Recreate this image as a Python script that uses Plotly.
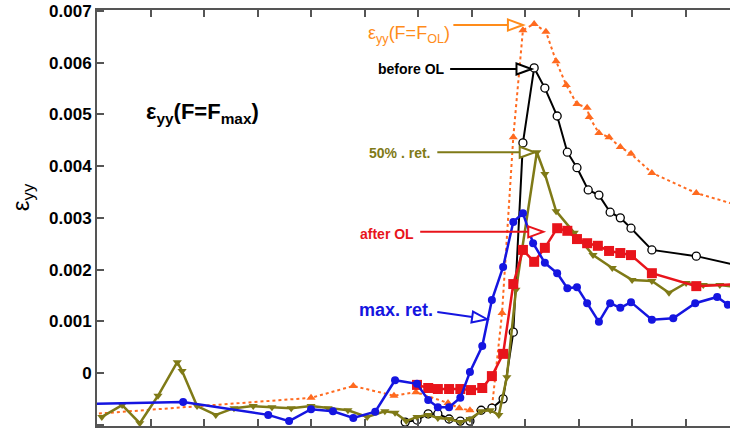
import math
import plotly.graph_objects as go

# ---------------- data (x in arbitrary position units, y in units of 1e-3 strain) -------------
SCALE = 1e-3

blue_x = [-0.3, 1.61, 3.20, 3.59, 4.00, 4.41, 4.79, 5.20, 5.57, 5.98, 6.19, 6.37, 6.58, 6.79,
          6.97, 7.20, 7.38, 7.59, 7.78, 7.96, 8.15, 8.37, 8.60, 8.79, 8.97, 9.16, 9.38, 9.59,
          9.78, 9.98, 10.37, 10.77, 11.18, 11.59, 11.79]
blue_y = [-0.60, -0.56, -0.81, -0.93, -0.70, -0.74, -0.87, -0.75, -0.14, -0.21, -0.52, -0.66,
          -0.66, -0.48, 0.02, 0.52, 1.41, 2.05, 2.92, 3.09, 2.51, 2.13, 1.93, 1.64, 1.66, 1.35,
          0.99, 1.35, 1.26, 1.37, 1.03, 1.06, 1.35, 1.47, 1.32]

red_x = [5.98, 6.19, 6.37, 6.58, 6.79, 6.99, 7.20, 7.38, 7.59, 7.78, 7.96, 8.17, 8.37, 8.60,
         8.79, 8.97, 9.16, 9.36, 9.57, 9.78, 9.98, 10.37, 11.20, 12.0]
red_y = [-0.23, -0.29, -0.31, -0.31, -0.31, -0.33, -0.29, -0.06, 0.37, 1.72, 2.38, 2.15, 2.42,
         2.80, 2.75, 2.59, 2.51, 2.46, 2.36, 2.32, 2.28, 1.93, 1.68, 1.72]

olive_x = [0.09, 0.47, 0.80, 1.14, 1.50, 1.59, 1.87, 2.22, 2.56, 2.92, 3.27, 3.63, 4.00, 4.32,
           4.69, 5.05, 5.38, 5.57, 5.78, 5.98, 6.19, 6.37, 6.58, 6.79, 6.97, 7.18, 7.35, 7.51,
           7.66, 7.83, 8.22, 8.37, 8.58, 8.92, 9.27, 9.63, 10.00, 10.37, 10.69, 11.01, 11.33,
           11.64, 11.96]
olive_y = [-0.85, -0.62, -0.97, -0.44, 0.21, 0.04, -0.64, -0.81, -0.68, -0.64, -0.66, -0.68,
           -0.64, -0.68, -0.72, -0.85, -0.74, -0.77, -0.93, -0.85, -0.81, -0.87, -0.89, -0.95,
           -0.89, -0.74, -0.72, -0.81, -0.08, 1.61, 4.27, 3.85, 3.13, 2.71, 2.28, 2.03, 1.80,
           1.78, 1.55, 1.74, 1.70, 1.70, 1.66]

orange_x = [-0.3, 4.00, 4.79, 5.55, 5.96, 6.56, 6.77, 6.97, 7.18, 7.38, 7.57, 7.78, 7.96, 8.17,
            8.39, 8.58, 8.77, 8.97, 9.16, 9.20, 9.38, 9.57, 9.78, 9.98, 10.37, 11.20, 12.02]
orange_y = [-0.81, -0.48, -0.25, -0.44, -0.37, -0.58, -0.68, -0.72, -0.72, -0.68, 1.16, 4.56,
            6.63, 6.75, 6.60, 6.03, 5.57, 5.20, 5.13, 4.95, 4.64, 4.56, 4.37, 4.24, 3.87, 3.48,
            3.23]

black_x = [5.76, 5.98, 6.19, 6.37, 6.58, 6.79, 6.97, 7.18, 7.38, 7.59, 7.78, 7.96, 8.17, 8.37,
           8.60, 8.79, 8.97, 9.18, 9.38, 9.59, 9.78, 9.98, 10.37, 11.20, 12.02]
black_y = [-0.95, -0.91, -0.79, -0.79, -0.89, -0.93, -0.93, -0.72, -0.68, -0.50, 0.79, 4.45,
           5.90, 5.51, 4.97, 4.27, 3.97, 3.54, 3.44, 3.11, 3.00, 2.80, 2.38, 2.26, 2.07]

y_tick_vals = [-0.001, 0, 0.001, 0.002, 0.003, 0.004, 0.005, 0.006, 0.007]
y_tick_text = ["-0.001", "0", "0.001", "0.002", "0.003", "0.004", "0.005", "0.006", "0.007"]
x_tick_vals = [1, 2, 3, 4, 5, 6, 7, 8, 9, 10, 11]

# annotation labels:
# (text, colour, font size, label anchor x, y(1e-3), arrow start x, y, arrow tip x, y)
labels = [
    ("ε<sub>yy</sub>(F=F<sub>OL</sub>)", "#ff8c1a", 18, 6.64, 6.55, 6.66, 6.73, 7.96, 6.73),
    ("<b>before OL</b>", "#000000", 14, 6.54, 5.88, 6.60, 5.88, 8.12, 5.88),
    ("<b>50% . ret.</b>", "#7f7a17", 14, 6.26, 4.25, 6.36, 4.27, 8.18, 4.27),
    ("<b>after OL</b>", "#e8141b", 14, 5.96, 2.68, 6.04, 2.73, 8.34, 2.73),
    ("<b>max. ret.</b>", "#1515e0", 18, 6.32, 1.22, 6.36, 1.18, 7.29, 1.04),
]

FONT = "Arial, 'Liberation Sans', sans-serif"
W, H = 730, 428
ML, MR, MT, MB = 97, 0, 10, 2
XR = [0, 11.83]
YR = [-0.001025, 0.00702]

fig = go.Figure()

fig.add_trace(go.Scatter(
    x=orange_x, y=[v * SCALE for v in orange_y], mode="lines+markers",
    line=dict(color="#ff6a1f", width=2, dash="dot"),
    marker=dict(symbol="triangle-up", size=8, color="#ff6a1f"), showlegend=False))
fig.add_trace(go.Scatter(
    x=black_x, y=[v * SCALE for v in black_y], mode="lines+markers",
    line=dict(color="#000000", width=2),
    marker=dict(symbol="circle", size=8, color="white", line=dict(color="#000000", width=1.3)),
    showlegend=False))
fig.add_trace(go.Scatter(
    x=olive_x, y=[v * SCALE for v in olive_y], mode="lines+markers",
    line=dict(color="#7f7a17", width=2.5),
    marker=dict(symbol="triangle-down", size=8, color="#7f7a17"), showlegend=False))
fig.add_trace(go.Scatter(
    x=red_x, y=[v * SCALE for v in red_y], mode="lines+markers",
    line=dict(color="#e8141b", width=2.5),
    marker=dict(symbol="square", size=10, color="#e8141b"), showlegend=False))
fig.add_trace(go.Scatter(
    x=blue_x, y=[v * SCALE for v in blue_y], mode="lines+markers",
    line=dict(color="#1515e0", width=2.5),
    marker=dict(symbol="circle", size=8, color="#1515e0"), showlegend=False))

# pixel scale helpers for arrow heads
pw = W - ML - MR
ph = H - MT - MB
ppx = pw / (XR[1] - XR[0])
ppy = ph / (YR[1] - YR[0])

shapes = []
annotations = []
for text, col, fs, lx, ly, sx, sy, tx, ty in labels:
    sy_, ty_, ly_ = sy * SCALE, ty * SCALE, ly * SCALE
    dxp = (tx - sx) * ppx
    dyp = -(ty_ - sy_) * ppy
    n = math.hypot(dxp, dyp)
    ux, uy = dxp / n, dyp / n
    L, Wd = 15, 5.5
    bx, by = -L * ux, -L * uy
    px_, py_ = -uy, ux
    p1 = (tx + (bx + Wd * px_) / ppx, ty_ - (by + Wd * py_) / ppy)
    p2 = (tx + (bx - Wd * px_) / ppx, ty_ - (by - Wd * py_) / ppy)
    back = (tx + bx / ppx, ty_ - by / ppy)
    shapes.append(dict(type="line", xref="x", yref="y", x0=sx, y0=sy_, x1=back[0], y1=back[1],
                       line=dict(color=col, width=2)))
    shapes.append(dict(type="path", xref="x", yref="y",
                       path=f"M {tx},{ty_} L {p1[0]},{p1[1]} L {p2[0]},{p2[1]} Z",
                       fillcolor="white", line=dict(color=col, width=2)))
    annotations.append(dict(x=lx, y=ly_, xref="x", yref="y", text=text, showarrow=False,
                            xanchor="right", yanchor="middle",
                            font=dict(family=FONT, size=fs, color=col)))

annotations.append(dict(x=1.98, y=5.03 * SCALE, xref="x", yref="y",
                        text="<b>ε<sub>yy</sub>(F=F<sub>max</sub>)</b>", showarrow=False,
                        xanchor="center", yanchor="middle",
                        font=dict(family=FONT, size=22, color="#000000")))
annotations.append(dict(x=(22 - ML) / pw, y=0.55, xref="paper", yref="paper",
                        text="ε<sub>yy</sub>", showarrow=False, textangle=-90,
                        xanchor="center", yanchor="middle",
                        font=dict(family=FONT, size=24, color="#000000")))

fig.update_layout(
    width=W, height=H,
    margin=dict(l=ML, r=MR, t=MT, b=MB, pad=0),
    paper_bgcolor="white", plot_bgcolor="white",
    font=dict(family=FONT),
    shapes=shapes, annotations=annotations,
    xaxis=dict(range=XR, tickvals=x_tick_vals, showticklabels=False, ticks="inside",
               ticklen=7, tickwidth=1.5, tickcolor="#555", showline=True, linecolor="#555",
               linewidth=2, mirror="ticks", showgrid=False, zeroline=False),
    yaxis=dict(range=YR, tickvals=y_tick_vals, ticktext=y_tick_text, ticks="inside",
               ticklen=7, tickwidth=1.5, tickcolor="#555", showline=True, linecolor="#555",
               linewidth=2, showgrid=False, zeroline=False,
               tickfont=dict(family=FONT, size=17, color="#000", weight="bold")),
)

fig.write_html("out.html")
